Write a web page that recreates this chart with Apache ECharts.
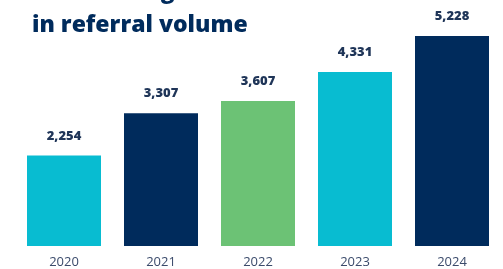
<!DOCTYPE html>
<html>
<head>
<meta charset="utf-8">
<script src="https://cdn.jsdelivr.net/npm/echarts@6/dist/echarts.min.js"></script>
<style>
html, body { margin: 0; padding: 0; background: #fff; }
#chart { width: 503px; height: 269px; }
</style>
</head>
<body>
<div id="chart"></div>
<script>
var years = ['2020', '2021', '2022', '2023', '2024'];
var referrals = [2254, 3307, 3607, 4331, 5228];
var barColors = ['#08bcd1', '#002b5c', '#6cc275', '#08bcd1', '#002b5c'];
var titleLines = ['Continued growth', 'in referral volume'];

var chart = echarts.init(document.getElementById('chart'));

var titleStyle = { fontFamily: 'Open Sans', fontWeight: 800, fontSize: 23, color: '#002b5c' };

chart.setOption({
    animation: false,
    title: [{
        text: titleLines[0],
        left: 27,
        top: -25,
        textStyle: titleStyle
    }, {
        text: titleLines[1],
        left: 27,
        top: 9,
        textStyle: titleStyle
    }],
    grid: {
        left: 15.5,
        right: 2.5,
        top: 5,
        bottom: 23,
        containLabel: false
    },
    xAxis: {
        type: 'category',
        data: years,
        axisLine: { show: false },
        axisTick: { show: false },
        axisLabel: {
            margin: 10,
            fontFamily: 'Open Sans',
            fontSize: 13,
            color: '#3b4b6b'
        }
    },
    yAxis: {
        type: 'value',
        min: 0,
        max: 6000,
        show: false,
        splitLine: { show: false }
    },
    series: [{
        type: 'bar',
        barWidth: 74,
        data: referrals.map(function (v, i) {
            return { value: v, itemStyle: { color: barColors[i] } };
        }),
        label: {
            show: true,
            position: 'top',
            distance: 13,
            fontFamily: 'Open Sans',
            fontWeight: 800,
            fontSize: 13,
            color: '#1f3558',
            formatter: function (p) {
                return p.value.toLocaleString('en-US');
            }
        }
    }]
});
</script>
</body>
</html>
